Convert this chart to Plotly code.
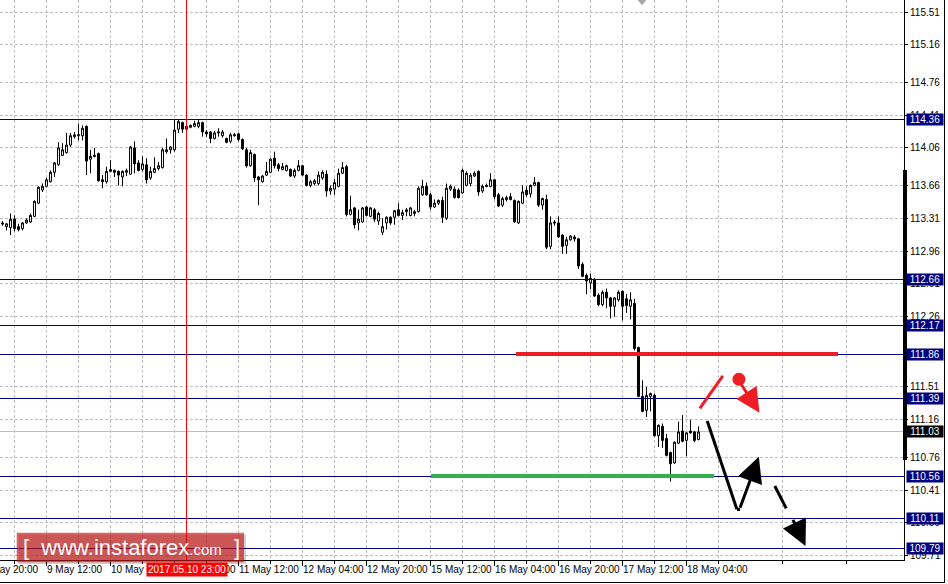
import plotly.graph_objects as go

# ---------------- data (H1 bars, index = trading hours from 8 May 20:00) -------------
hours = list(range(5, 180))
opens = [113.26, 113.22, 113.21, 113.30, 113.22, 113.20, 113.26, 113.27, 113.33, 113.47,
         113.61, 113.65, 113.70, 113.80, 113.88, 113.98, 114.01, 114.09, 114.18, 114.19,
         114.19, 114.29, 113.94, 113.98, 114.00, 113.72, 113.70, 113.81, 113.82, 113.81,
         113.75, 113.80, 113.78, 114.06, 113.90, 113.83, 113.88, 113.74, 113.80, 113.84,
         113.85, 114.02, 114.04, 114.04, 114.26, 114.33, 114.29, 114.28, 114.29, 114.29,
         114.33, 114.23, 114.23, 114.16, 114.22, 114.19, 114.16, 114.13, 114.19, 114.21,
         114.15, 114.04, 113.87, 113.99, 113.75, 113.70, 113.77, 113.80, 113.95, 113.88,
         113.83, 113.82, 113.83, 113.76, 113.82, 113.87, 113.77, 113.66, 113.68, 113.68,
         113.74, 113.78, 113.60, 113.62, 113.65, 113.79, 113.86, 113.35, 113.42, 113.26,
         113.27, 113.43, 113.33, 113.40, 113.28, 113.16, 113.26, 113.32, 113.32, 113.40,
         113.34, 113.38, 113.34, 113.36, 113.38, 113.56, 113.65, 113.56, 113.43, 113.47,
         113.50, 113.31, 113.62, 113.62, 113.61, 113.58, 113.66, 113.68, 113.76, 113.81,
         113.60, 113.66, 113.65, 113.72, 113.56, 113.45, 113.51, 113.54, 113.50, 113.26,
         113.47, 113.61, 113.57, 113.66, 113.69, 113.45, 113.51, 113.01, 113.27, 113.26,
         113.13, 113.02, 113.08, 113.11, 113.09, 112.82, 112.70, 112.62, 112.66, 112.49,
         112.39, 112.52, 112.46, 112.37, 112.44, 112.53, 112.45, 112.37, 112.40, 111.93,
         111.41, 111.26, 111.41, 111.42, 110.99, 111.09, 110.96, 110.81, 110.70, 110.91,
         111.04, 110.94, 111.04, 111.03, 110.95]
highs = [113.28, 113.26, 113.36, 113.34, 113.25, 113.27, 113.31, 113.36, 113.50, 113.65,
         113.68, 113.74, 113.82, 113.91, 114.12, 114.11, 114.22, 114.22, 114.23, 114.32,
         114.30, 114.30, 114.04, 114.06, 114.01, 113.77, 113.86, 113.93, 113.83, 113.82,
         113.82, 113.84, 114.08, 114.13, 113.93, 113.97, 113.95, 113.86, 113.96, 113.91,
         114.06, 114.16, 114.08, 114.36, 114.36, 114.34, 114.30, 114.31, 114.35, 114.36,
         114.34, 114.25, 114.24, 114.24, 114.27, 114.25, 114.17, 114.22, 114.22, 114.22,
         114.16, 114.06, 114.04, 114.00, 113.76, 113.77, 113.91, 113.95, 114.02, 113.90,
         113.90, 113.88, 113.84, 113.84, 113.93, 113.88, 113.78, 113.72, 113.73, 113.81,
         113.82, 113.82, 113.66, 113.73, 113.84, 113.91, 113.88, 113.55, 113.43, 113.40,
         113.43, 113.44, 113.43, 113.42, 113.38, 113.31, 113.33, 113.33, 113.40, 113.47,
         113.40, 113.42, 113.43, 113.40, 113.65, 113.72, 113.69, 113.58, 113.51, 113.51,
         113.54, 113.68, 113.67, 113.65, 113.63, 113.84, 113.81, 113.79, 113.81, 113.82,
         113.67, 113.68, 113.79, 113.73, 113.58, 113.54, 113.55, 113.58, 113.51, 113.50,
         113.66, 113.65, 113.67, 113.75, 113.70, 113.53, 113.56, 113.33, 113.29, 113.33,
         113.14, 113.11, 113.13, 113.13, 113.10, 112.84, 112.72, 112.72, 112.67, 112.51,
         112.54, 112.56, 112.47, 112.47, 112.54, 112.54, 112.50, 112.52, 112.45, 111.94,
         111.58, 111.51, 111.45, 111.44, 111.11, 111.12, 111.01, 110.82, 110.93, 111.14,
         111.21, 111.03, 111.16, 111.04, 111.09]
lows = [113.23, 113.18, 113.13, 113.17, 113.17, 113.18, 113.25, 113.26, 113.32, 113.46,
        113.59, 113.64, 113.69, 113.75, 113.87, 113.98, 114.00, 114.07, 114.16, 114.14,
        114.14, 113.77, 113.79, 113.96, 113.70, 113.63, 113.68, 113.80, 113.75, 113.66,
        113.65, 113.76, 113.77, 113.79, 113.81, 113.81, 113.68, 113.72, 113.79, 113.82,
        113.84, 114.00, 114.00, 114.02, 114.22, 114.22, 114.24, 114.27, 114.28, 114.27,
        114.18, 114.18, 114.11, 114.15, 114.18, 114.17, 114.11, 114.11, 114.18, 114.13,
        114.04, 113.85, 113.86, 113.70, 113.45, 113.69, 113.76, 113.79, 113.84, 113.81,
        113.82, 113.81, 113.75, 113.74, 113.81, 113.76, 113.65, 113.64, 113.66, 113.66,
        113.72, 113.54, 113.56, 113.56, 113.64, 113.78, 113.33, 113.34, 113.20, 113.18,
        113.26, 113.33, 113.32, 113.27, 113.24, 113.13, 113.19, 113.24, 113.24, 113.33,
        113.29, 113.33, 113.33, 113.33, 113.37, 113.55, 113.55, 113.40, 113.42, 113.45,
        113.26, 113.29, 113.60, 113.52, 113.52, 113.57, 113.65, 113.65, 113.75, 113.55,
        113.58, 113.64, 113.64, 113.51, 113.43, 113.43, 113.49, 113.50, 113.26, 113.25,
        113.46, 113.54, 113.53, 113.65, 113.43, 113.40, 112.98, 112.98, 113.23, 113.10,
        112.93, 112.93, 113.07, 113.06, 112.77, 112.68, 112.50, 112.55, 112.47, 112.37,
        112.37, 112.35, 112.24, 112.26, 112.42, 112.22, 112.30, 112.23, 111.90, 111.40,
        111.24, 111.19, 111.25, 110.98, 110.87, 110.86, 110.77, 110.50, 110.69, 110.90,
        110.92, 110.77, 111.01, 110.92, 110.94]
closes = [113.25, 113.25, 113.30, 113.20, 113.19, 113.26, 113.29, 113.34, 113.49, 113.64,
          113.65, 113.72, 113.80, 113.90, 114.06, 114.04, 114.09, 114.19, 114.20, 114.20,
          114.27, 113.92, 113.97, 113.97, 113.71, 113.70, 113.81, 113.83, 113.80, 113.77,
          113.81, 113.82, 114.07, 113.89, 113.82, 113.89, 113.72, 113.81, 113.84, 113.87,
          114.04, 114.04, 114.07, 114.25, 114.34, 114.26, 114.26, 114.30, 114.32, 114.33,
          114.23, 114.21, 114.16, 114.22, 114.23, 114.23, 114.12, 114.20, 114.20, 114.15,
          114.05, 113.87, 114.01, 113.74, 113.72, 113.76, 113.81, 113.94, 113.87, 113.84,
          113.86, 113.87, 113.76, 113.82, 113.87, 113.77, 113.66, 113.70, 113.71, 113.77,
          113.80, 113.60, 113.63, 113.69, 113.79, 113.85, 113.35, 113.40, 113.24, 113.30,
          113.42, 113.34, 113.42, 113.30, 113.36, 113.22, 113.32, 113.26, 113.39, 113.34,
          113.37, 113.40, 113.42, 113.38, 113.63, 113.65, 113.56, 113.43, 113.47, 113.50,
          113.32, 113.63, 113.65, 113.53, 113.53, 113.82, 113.79, 113.77, 113.79, 113.59,
          113.65, 113.65, 113.72, 113.54, 113.44, 113.52, 113.53, 113.51, 113.27, 113.49,
          113.59, 113.56, 113.66, 113.69, 113.45, 113.52, 113.00, 113.26, 113.26, 113.11,
          113.01, 113.08, 113.12, 113.09, 112.80, 112.69, 112.64, 112.67, 112.48, 112.39,
          112.52, 112.46, 112.37, 112.46, 112.52, 112.37, 112.38, 112.44, 111.92, 111.41,
          111.25, 111.42, 111.44, 110.99, 111.10, 110.94, 110.78, 110.69, 110.92, 111.03,
          110.93, 111.02, 111.02, 110.94, 111.03]

x_tick_idx = [0, 16, 32, 48, 64, 80, 96, 112, 128, 144, 160, 176]
x_tick_text = ["8 May 20:00", "9 May 12:00", "10 May 04:00", "10 May 20:00", "11 May 12:00",
               "12 May 04:00", "12 May 20:00", "15 May 12:00", "16 May 04:00", "16 May 20:00",
               "17 May 12:00", "18 May 04:00"]
y_tick_vals = [115.51, 115.16, 114.76, 114.41, 114.06, 113.66, 113.31, 112.96, 112.61,
               112.26, 111.86, 111.51, 111.16, 110.76, 110.41, 110.06, 109.71]
level_prices = [114.36, 112.66, 112.17, 111.86, 111.39, 110.56, 110.11, 109.79]
current_price = 111.03
resistance = 111.86
support = 110.56
cursor_hour = 51
cursor_label = "2017.05.10 23:00"
logo_text = "www.instaforex"

# ---------------- layout constants ----------------
XMIN, XMAX = 4.375, 230.375
YMIN, YMAX = 109.664, 115.638
FONT = "Liberation Sans, Arial, sans-serif"
NAVY = "#000080"
RED = "#EE1C25"
GREEN = "#2FB24C"
GRID = "#C0C0C0"


def xp(i):
    return (i - XMIN) / (XMAX - XMIN)


fig = go.Figure()
fig.add_trace(go.Candlestick(
    x=hours, open=opens, high=highs, low=lows, close=closes,
    increasing=dict(line=dict(color="black", width=1), fillcolor="white"),
    decreasing=dict(line=dict(color="black", width=1), fillcolor="black"),
    whiskerwidth=0, hoverinfo="skip", showlegend=False))

# red dot of the scenario drawing
fig.add_trace(go.Scatter(x=[189.1], y=[111.592], mode="markers",
                         marker=dict(size=13, color=RED), hoverinfo="skip", showlegend=False))

shapes = []
annotations = []

# horizontal level lines
for p in level_prices:
    shapes.append(dict(type="line", xref="paper", yref="y", x0=0, x1=1, y0=p, y1=p,
                       line=dict(color=NAVY, width=1), layer="above"))
shapes.append(dict(type="line", xref="paper", yref="y", x0=0, x1=1, y0=current_price,
                   y1=current_price, line=dict(color="#BDBDBD", width=1), layer="between"))

# cursor vertical line
shapes.append(dict(type="line", xref="x", yref="paper", x0=cursor_hour, x1=cursor_hour,
                   y0=0, y1=1, line=dict(color="#FF0000", width=1), layer="above"))

# resistance / support thick lines
shapes.append(dict(type="line", xref="x", yref="y", x0=133.25, x1=213.75, y0=resistance,
                   y1=resistance, line=dict(color=RED, width=4), layer="above"))
shapes.append(dict(type="line", xref="x", yref="y", x0=112, x1=182.75, y0=support,
                   y1=support, line=dict(color=GREEN, width=4), layer="above"))

# red up stroke
shapes.append(dict(type="line", xref="x", yref="y", x0=179.33, y0=111.282, x1=185.08,
                   y1=111.627, line=dict(color=RED, width=3), layer="above"))
# black down stroke
shapes.append(dict(type="line", xref="x", yref="y", x0=181.18, y0=111.147, x1=188.6,
                   y1=110.205, line=dict(color="black", width=3), layer="above"))
shapes.append(dict(type="line", xref="x", yref="y", x0=188.6, y0=110.205, x1=189.25,
                   y1=110.205, line=dict(color="black", width=3), layer="above"))
# dashed first segment
shapes.append(dict(type="line", xref="x", yref="y", x0=198.08, y0=110.453, x1=200.93,
                   y1=110.215, line=dict(color="black", width=3), layer="above"))

# arrows
annotations.append(dict(x=194.25, y=111.235, ax=189.5, ay=111.549, xref="x", yref="y",
                        axref="x", ayref="y", text="", showarrow=True, arrowhead=2,
                        arrowsize=1.6, arrowwidth=3, arrowcolor=RED))
annotations.append(dict(x=194.08, y=110.766, ax=189.25, ay=110.205, xref="x", yref="y",
                        axref="x", ayref="y", text="", showarrow=True, arrowhead=2,
                        arrowsize=1.7, arrowwidth=3, arrowcolor="black"))
annotations.append(dict(x=205.75, y=109.813, ax=202.43, ay=110.109, xref="x", yref="y",
                        axref="x", ayref="y", text="", showarrow=True, arrowhead=2,
                        arrowsize=1.7, arrowwidth=3, arrowcolor="black"))

# right side price bar
shapes.append(dict(type="line", xref="paper", yref="y", x0=1.0012, x1=1.0012, y0=110.736,
                   y1=113.825, line=dict(color="black", width=3.5), layer="above"))

# outer frame
FR_X = 944.5 / 904
FR_Y = -22.5 / 560
shapes.append(dict(type="line", xref="paper", yref="paper", x0=-0.01, x1=FR_X, y0=FR_Y,
                   y1=FR_Y, line=dict(color="black", width=1)))
shapes.append(dict(type="line", xref="paper", yref="paper", x0=FR_X, x1=FR_X, y0=FR_Y,
                   y1=1.01, line=dict(color="black", width=1)))

# chart-shift marker (grey triangle at top)
shapes.append(dict(type="path", xref="paper", yref="paper",
                   path="M 0.7053 1 L 0.7151 1 L 0.7102 0.9905 Z",
                   fillcolor="#A8A8A8", line=dict(width=0)))

# price labels on the right
for p in level_prices:
    annotations.append(dict(xref="paper", yref="y", x=1, y=p, xanchor="left", yanchor="middle",
                            xshift=2, text=f"{p:.2f}", showarrow=False, bgcolor=NAVY,
                            borderpad=0, width=36, height=11,
                            font=dict(size=10, color="white", family=FONT)))
annotations.append(dict(xref="paper", yref="y", x=1, y=current_price, xanchor="left",
                        yanchor="middle", xshift=2, text=f"{current_price:.2f}",
                        showarrow=False, bgcolor="black", borderpad=0, width=36, height=11,
                        font=dict(size=10, color="white", family=FONT)))

# time labels (left aligned on their tick)
for i, t in zip(x_tick_idx, x_tick_text):
    annotations.append(dict(xref="paper", yref="paper", x=xp(i), y=0, xanchor="left",
                            yanchor="top", yshift=-2, xshift=-2, text=t, showarrow=False,
                            font=dict(size=10, color="black", family=FONT)))
annotations.append(dict(xref="paper", yref="paper", x=xp(cursor_hour), y=0, xanchor="center",
                        yanchor="top", yshift=-2, text=cursor_label, showarrow=False,
                        bgcolor="#FF0000", borderpad=1,
                        font=dict(size=10, color="white", family=FONT)))

# logo
shapes.append(dict(type="rect", xref="paper", yref="paper", x0=18.5 / 904, x1=246 / 904,
                   y0=(560 - 564) / 560, y1=(560 - 534.5) / 560,
                   fillcolor="rgba(0,0,0,0.18)", line=dict(width=0), layer="above"))
shapes.append(dict(type="rect", xref="paper", yref="paper", x0=16.7 / 904, x1=244 / 904,
                   y0=(560 - 562.3) / 560, y1=(560 - 532.7) / 560,
                   fillcolor="rgba(200,20,20,0.65)", line=dict(width=0), layer="above"))
annotations.append(dict(xref="paper", yref="paper", x=131 / 904, y=(560 - 547.5) / 560,
                        xanchor="center", yanchor="middle", showarrow=False,
                        text="[\u00a0\u00a0" + logo_text +
                             "<span style='font-size:15px'>.com</span>\u00a0\u00a0]",
                        font=dict(size=22, color="white", family=FONT)))

fig.update_layout(
    width=948, height=584,
    margin=dict(l=0, r=44, t=0, b=24),
    paper_bgcolor="white", plot_bgcolor="white",
    showlegend=False,
    shapes=shapes, annotations=annotations,
    xaxis=dict(range=[XMIN, XMAX], rangeslider=dict(visible=False),
               tickmode="array", tickvals=x_tick_idx, showticklabels=False,
               ticks="outside", ticklen=5, tickcolor="black", tickwidth=1,
               showgrid=True, gridcolor=GRID, griddash="3px,2px", gridwidth=1,
               minor=dict(tickmode="linear", tick0=8, dtick=16, ticks="outside", ticklen=3,
                          tickcolor="black", showgrid=True, gridcolor=GRID,
                          griddash="3px,2px", gridwidth=1),
               showline=True, linecolor="black", linewidth=1, zeroline=False,
               fixedrange=True),
    yaxis=dict(range=[YMIN, YMAX], side="right", tickmode="array", tickvals=y_tick_vals,
               ticktext=[f"{v:.2f}" for v in y_tick_vals], ticks="outside", ticklen=3,
               tickcolor="black", tickfont=dict(size=10, color="black", family=FONT),
               showgrid=True, gridcolor=GRID, griddash="3px,2px", gridwidth=1,
               showline=True, linecolor="black", linewidth=1, zeroline=False,
               fixedrange=True),
)

POST = """
document.body.style.margin='0';
document.body.style.overflow='hidden';
function crispLines(){
  var gd = document.getElementById('{plot_id}');
  if(!gd) return;
  gd.querySelectorAll('.shapelayer path').forEach(function(p){
    var d = p.getAttribute('d') || '';
    var n = d.match(/-?[0-9.]+/g);
    if(n && n.length === 4){
      var x0=+n[0], y0=+n[1], x1=+n[2], y1=+n[3];
      if(Math.abs(y0-y1) < 0.01 || Math.abs(x0-x1) < 0.01){
        p.style.shapeRendering = 'crispEdges';
      }
    }
  });
}
crispLines(); setTimeout(crispLines, 50); setTimeout(crispLines, 300);
"""

fig.write_html("out.html",
               config={"displayModeBar": False, "staticPlot": True},
               post_script=POST)
